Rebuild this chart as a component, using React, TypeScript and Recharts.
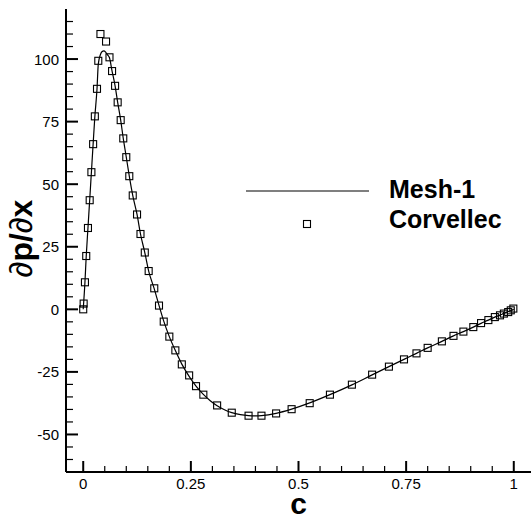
import React from 'react';
import { ComposedChart, Line, Scatter, XAxis, YAxis, Legend } from 'recharts';

// Mesh-1 (solid line)
const meshX = [0, 0.004, 0.007, 0.011, 0.015, 0.019, 0.023, 0.027, 0.032, 0.035, 0.040, 0.044, 0.048, 0.052, 0.056, 0.061, 0.067, 0.074, 0.080, 0.087, 0.093, 0.100, 0.107, 0.115, 0.125, 0.133, 0.143, 0.152, 0.165, 0.176, 0.187, 0.200, 0.214, 0.229, 0.246, 0.262, 0.279, 0.295, 0.311, 0.328, 0.345, 0.365, 0.384, 0.400, 0.414, 0.448, 0.484, 0.526, 0.573, 0.624, 0.671, 0.710, 0.745, 0.774, 0.800, 0.833, 0.860, 0.883, 0.906, 0.924, 0.941, 0.956, 0.968, 0.977, 0.987, 0.993, 1.0];
const meshY = [0, 10.8, 21.3, 32.5, 43.6, 54.8, 66, 77, 88, 98, 101.8, 103, 103.3, 102.8, 101.8, 100.5, 95.2, 89.3, 82.7, 75.6, 68.3, 60.8, 53.2, 45.5, 37.9, 30.1, 22.7, 15.3, 8.2, 1.6, -4.7, -10.9, -16.5, -21.9, -26.8, -30.7, -34.0, -36.5, -38.5, -40.1, -41.3, -42.1, -42.5, -42.6, -42.5, -41.6, -39.9, -37.4, -34.1, -30.2, -26.2, -22.9, -20.0, -17.6, -15.4, -12.8, -10.6, -8.9, -7.1, -5.6, -4.3, -3.1, -2.3, -1.6, -0.9, -0.5, 0];

// Corvellec (square markers)
const corvX = [0.000, 0.001, 0.004, 0.007, 0.011, 0.015, 0.019, 0.023, 0.027, 0.032, 0.035, 0.040, 0.053, 0.061, 0.067, 0.074, 0.080, 0.087, 0.093, 0.100, 0.107, 0.115, 0.125, 0.133, 0.143, 0.152, 0.165, 0.176, 0.187, 0.200, 0.214, 0.229, 0.246, 0.262, 0.279, 0.311, 0.345, 0.384, 0.414, 0.448, 0.484, 0.526, 0.573, 0.624, 0.671, 0.710, 0.745, 0.774, 0.800, 0.833, 0.860, 0.883, 0.906, 0.924, 0.941, 0.956, 0.968, 0.977, 0.987, 0.993, 0.999];
const corvY = [0.0, 2.3, 10.8, 21.3, 32.5, 43.6, 54.8, 66.0, 77.1, 88.1, 99.3, 110.0, 107.0, 100.7, 95.2, 89.3, 82.7, 75.6, 68.3, 60.8, 53.2, 45.5, 37.9, 30.1, 22.7, 15.3, 8.4, 1.5, -4.9, -10.9, -16.4, -22.0, -26.4, -30.7, -34.1, -38.4, -41.3, -42.5, -42.5, -41.6, -39.9, -37.5, -34.1, -30.1, -26.1, -22.9, -20.0, -17.6, -15.4, -12.8, -10.6, -8.9, -7.1, -5.5, -4.3, -3.1, -2.4, -1.7, -1.1, -0.4, 0.3];

const seriesNames = ['Mesh-1', 'Corvellec'];
const xMajorTicks = [0, 0.25, 0.5, 0.75, 1];
const xTickLabels = ['0', '0.25', '0.5', '0.75', '1'];
const yMajorTicks = [-50, -25, 0, 25, 50, 75, 100];
const yTickLabels = ['-50', '-25', '0', '25', '50', '75', '100'];
const xAllTicks = Array.from({ length: 21 }, (_, i) => (i * 5) / 100);
const yAllTicks = Array.from({ length: 36 }, (_, i) => -60 + 5 * i);

const meshData = meshX.map((x, i) => ({ x, y: meshY[i] }));
const corvData = corvX.map((x, i) => ({ x, y: corvY[i] }));

const FONT = '"Liberation Sans", Arial, Helvetica, sans-serif';

const XTick = (props: any) => {
  const { x, y, payload } = props;
  const idx = xMajorTicks.findIndex((t) => Math.abs(t - payload.value) < 1e-9);
  const major = idx >= 0;
  return (
    <g>
      <line x1={x} x2={x} y1={y} y2={y - (major ? 11 : 6)} stroke="#000" strokeWidth={major ? 2 : 1.2} />
      {major && (
        <text x={x} y={y + 17} textAnchor="middle" fontSize={15} fontFamily={FONT} fill="#000">
          {xTickLabels[idx]}
        </text>
      )}
    </g>
  );
};

const YTick = (props: any) => {
  const { x, y, payload } = props;
  const idx = yMajorTicks.findIndex((t) => Math.abs(t - payload.value) < 1e-9);
  const major = idx >= 0;
  return (
    <g>
      <line x1={x} x2={x + (major ? 12 : 7)} y1={y} y2={y} stroke="#000" strokeWidth={major ? 2 : 1.2} />
      {major && (
        <text x={x - 7} y={y + 5.5} textAnchor="end" fontSize={15} fontFamily={FONT} fill="#000">
          {yTickLabels[idx]}
        </text>
      )}
    </g>
  );
};

const XTitle = (props: any) => {
  const vb = props.viewBox || { x: 66, y: 472, width: 465, height: 46 };
  return (
    <text x={vb.x + vb.width / 2} y={vb.y + vb.height - 4} textAnchor="middle" fontSize={30} fontWeight="bold" fontFamily={FONT} fill="#000">
      c
    </text>
  );
};

const YTitle = (props: any) => {
  const vb = props.viewBox || { x: 0, y: 9, width: 66, height: 463 };
  const cx = vb.x + 21;
  const cy = vb.y + vb.height / 2 - 2;
  return (
    <text x={cx} y={cy} transform={`rotate(-90 ${cx} ${cy})`} textAnchor="middle" dominantBaseline="central" fontSize={32} fontFamily={FONT} fill="#000">
      <tspan>∂</tspan>
      <tspan fontWeight="bold">p/</tspan>
      <tspan>∂</tspan>
      <tspan fontWeight="bold">x</tspan>
    </text>
  );
};

const SquareMark = (props: any) => {
  const { cx, cy } = props;
  if (cx == null || cy == null) return null;
  return <rect x={cx - 3.5} y={cy - 3.5} width={7} height={7} fill="none" stroke="#000" strokeWidth={1.1} />;
};

const LegendBox = () => (
  <svg width={260} height={70} style={{ display: 'block', overflow: 'visible' }}>
    <line x1={16} x2={139} y1={21} y2={21} stroke="#000" strokeWidth={1.2} />
    <text x={159} y={28} fontSize={25} fontWeight="bold" fontFamily={FONT} fill="#000">
      {seriesNames[0]}
    </text>
    <rect x={77 - 3.5} y={54 - 3.5} width={7} height={7} fill="none" stroke="#000" strokeWidth={1.1} />
    <text x={159} y={58} fontSize={25} fontWeight="bold" fontFamily={FONT} fill="#000">
      {seriesNames[1]}
    </text>
  </svg>
);

export default function App() {
  return (
    <div style={{ position: 'absolute', left: 0, top: 0, width: 531, height: 518, background: '#fff' }}>
      <ComposedChart width={531} height={518} margin={{ top: 9, right: 0, bottom: 0, left: 0 }}>
        <XAxis
          type="number"
          dataKey="x"
          domain={[-0.04, 1.04]}
          ticks={xAllTicks}
          interval={0}
          tickSize={0}
          tickMargin={0}
          tick={<XTick />}
          tickLine={false}
          axisLine={{ stroke: '#000', strokeWidth: 2 }}
          height={46}
          allowDataOverflow
          label={<XTitle />}
        />
        <YAxis
          type="number"
          dataKey="y"
          domain={[-65, 120]}
          ticks={yAllTicks}
          interval={0}
          tickSize={0}
          tickMargin={0}
          tick={<YTick />}
          tickLine={false}
          axisLine={{ stroke: '#000', strokeWidth: 2 }}
          width={66}
          allowDataOverflow
          label={<YTitle />}
        />
        <Legend
          layout="horizontal"
          verticalAlign="middle"
          align="center"
          wrapperStyle={{ position: 'absolute', left: 230, top: 170, width: 260, height: 70 }}
          content={<LegendBox />}
        />
        <Line
          data={meshData}
          dataKey="y"
          type="monotone"
          stroke="#000"
          strokeWidth={1.2}
          dot={false}
          activeDot={false}
          isAnimationActive={false}
          name={seriesNames[0]}
          legendType="line"
        />
        <Scatter
          data={corvData}
          dataKey="y"
          name={seriesNames[1]}
          shape={<SquareMark />}
          isAnimationActive={false}
          legendType="square"
        />
      </ComposedChart>
    </div>
  );
}
